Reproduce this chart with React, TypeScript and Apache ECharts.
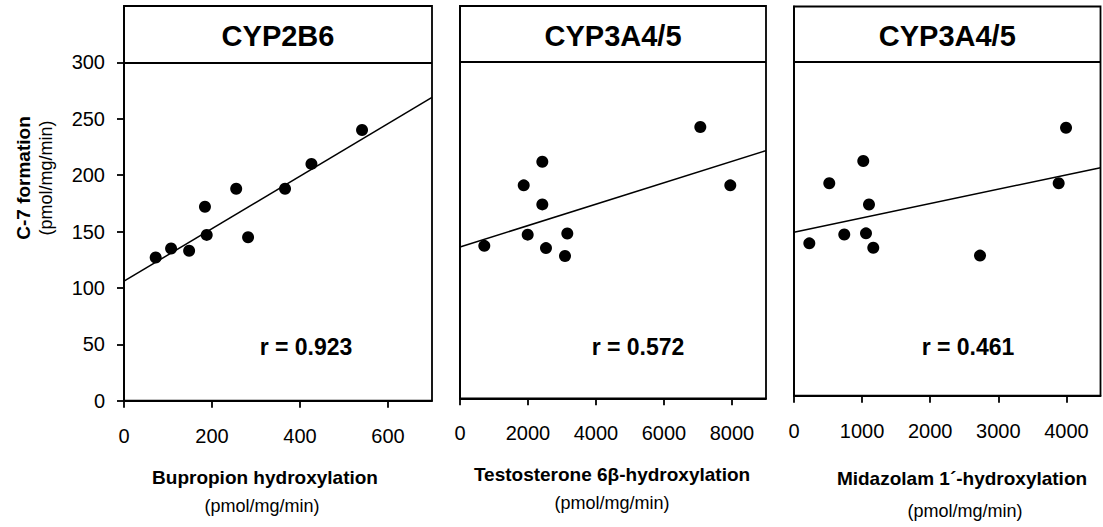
import React, { useEffect, useRef } from "react";
import * as echarts from "echarts";

// ---- data ----
const X1 = [72, 107, 148, 184, 188, 255, 282, 366, 426, 541];
const Y1 = [127, 135, 133, 172, 147, 188, 145, 188, 210, 240];
const X2 = [715, 1874, 1991, 2421, 2421, 2529, 3088, 3156, 7068, 7950];
const Y2 = [136, 190, 146, 211, 173, 134, 127, 147, 242, 190];
const X3 = [225, 518, 738, 1017, 1057, 1101, 1164, 2731, 3886, 3994];
const Y3 = [137, 191, 145, 211, 146, 172, 133, 126, 191, 241];

const FIT1 = [[0, 106], [700, 269]];
const FIT2 = [[0, 135], [9000, 221]];
const FIT3 = [[0, 147], [4500, 205]];

const TITLES = ["CYP2B6", "CYP3A4/5", "CYP3A4/5"];
const R_LABELS = ["r = 0.923", "r = 0.572", "r = 0.461"];
const X_NAMES = ["Bupropion hydroxylation", "Testosterone 6β-hydroxylation", "Midazolam 1´-hydroxylation"];
const UNIT = "(pmol/mg/min)";
const Y_NAME = "C-7 formation";

const X_MAX = [700, 9000, 4500];
const X_TICKS = [
  [0, 200, 400, 600],
  [0, 2000, 4000, 6000, 8000],
  [0, 1000, 2000, 3000, 4000],
];
const Y_TICKS = [0, 50, 100, 150, 200, 250, 300];
const Y_MAX = 350;
const BAND_LINE = 300;

const FONT = "'Liberation Sans', Arial, sans-serif";

export default function App() {
  const ref = useRef<HTMLDivElement>(null);
  useEffect(() => {
    if (!ref.current) return;
    const chart = echarts.init(ref.current, null, { renderer: "svg" });
    const grids = [
      { left: 124, top: 6, width: 308, height: 394.7 },
      { left: 460, top: 6, width: 306, height: 392.3 },
      { left: 794, top: 6.5, width: 306.5, height: 389.2 },
    ];
    const xs = [X1, X2, X3];
    const ys = [Y1, Y2, Y3];
    const fits = [FIT1, FIT2, FIT3];
    const frame = { color: "#000", width: 1.8 };
    const plain = (v: number) => String(v);

    const xAxis = grids.map((_, i) => ({
      type: "value",
      gridIndex: i,
      min: 0,
      max: X_MAX[i],
      axisLine: { show: true, onZero: false, lineStyle: frame },
      axisTick: { show: true, inside: false, length: 7, customValues: X_TICKS[i], lineStyle: frame },
      axisLabel: {
        show: true,
        customValues: X_TICKS[i],
        formatter: plain,
        color: "#000",
        fontFamily: FONT,
        fontSize: 20,
        margin: 25,
      },
      splitLine: { show: false },
    }));
    const yAxis = grids.map((_, i) => ({
      type: "value",
      gridIndex: i,
      min: 0,
      max: Y_MAX,
      axisLine: { show: true, onZero: false, lineStyle: frame },
      axisTick: { show: i === 0, inside: false, length: 7, customValues: Y_TICKS, lineStyle: frame },
      axisLabel: {
        show: i === 0,
        customValues: Y_TICKS,
        formatter: plain,
        color: "#000",
        fontFamily: FONT,
        fontSize: 20,
        margin: 19,
      },
      splitLine: { show: false },
    }));

    const series: any[] = [];
    grids.forEach((_, i) => {
      series.push({
        type: "scatter",
        xAxisIndex: i,
        yAxisIndex: i,
        data: xs[i].map((x, k) => [x, ys[i][k]]),
        symbol: "circle",
        symbolSize: 12,
        itemStyle: { color: "#000", opacity: 1 },
        markLine: {
          silent: true,
          symbol: ["none", "none"],
          label: { show: false },
          lineStyle: { color: "#000", type: "solid", width: 1.8, opacity: 1 },
          data: [{ yAxis: BAND_LINE }],
        },
      });
      series.push({
        type: "line",
        xAxisIndex: i,
        yAxisIndex: i,
        data: fits[i],
        symbol: "none",
        lineStyle: { color: "#000", width: 1.5 },
      });
    });

    const centers = grids.map((g) => g.left + g.width / 2);
    const rX = [306, 638, 968];
    const nameX = [265, 612, 962];
    const nameY = [477, 474, 478];
    const unitX = [262, 612, 965];
    const unitY = [506, 503, 511];

    const graphic: any[] = [];
    grids.forEach((g, i) => {
      graphic.push({
        type: "text",
        x: centers[i],
        y: 36,
        style: { text: TITLES[i], fill: "#000", font: `bold 29px ${FONT}`, textAlign: "center", textVerticalAlign: "middle" },
      });
      graphic.push({
        type: "text",
        x: rX[i],
        y: 347,
        style: { text: R_LABELS[i], fill: "#000", font: `bold 23px ${FONT}`, textAlign: "center", textVerticalAlign: "middle" },
      });
      graphic.push({
        type: "text",
        x: nameX[i],
        y: nameY[i],
        style: { text: X_NAMES[i], fill: "#000", font: `bold 19px ${FONT}`, textAlign: "center", textVerticalAlign: "middle" },
      });
      graphic.push({
        type: "text",
        x: unitX[i],
        y: unitY[i],
        style: { text: UNIT, fill: "#000", font: `18px ${FONT}`, textAlign: "center", textVerticalAlign: "middle" },
      });
    });
    graphic.push({
      type: "text",
      x: 23,
      y: 178,
      rotation: Math.PI / 2,
      style: { text: Y_NAME, fill: "#000", font: `bold 19px ${FONT}`, textAlign: "center", textVerticalAlign: "middle" },
    });
    graphic.push({
      type: "text",
      x: 46,
      y: 178,
      rotation: Math.PI / 2,
      style: { text: UNIT, fill: "#000", font: `18px ${FONT}`, textAlign: "center", textVerticalAlign: "middle" },
    });

    chart.setOption({
      animation: false,
      backgroundColor: "#fff",
      grid: grids.map((g) => ({ ...g, show: true, borderColor: "#000", borderWidth: 1.8, backgroundColor: "transparent" })),
      xAxis,
      yAxis,
      series,
      graphic,
    });
    return () => chart.dispose();
  }, []);
  return <div ref={ref} style={{ position: "absolute", left: 0, top: 0, width: 1103, height: 527, background: "#fff" }} />;
}
